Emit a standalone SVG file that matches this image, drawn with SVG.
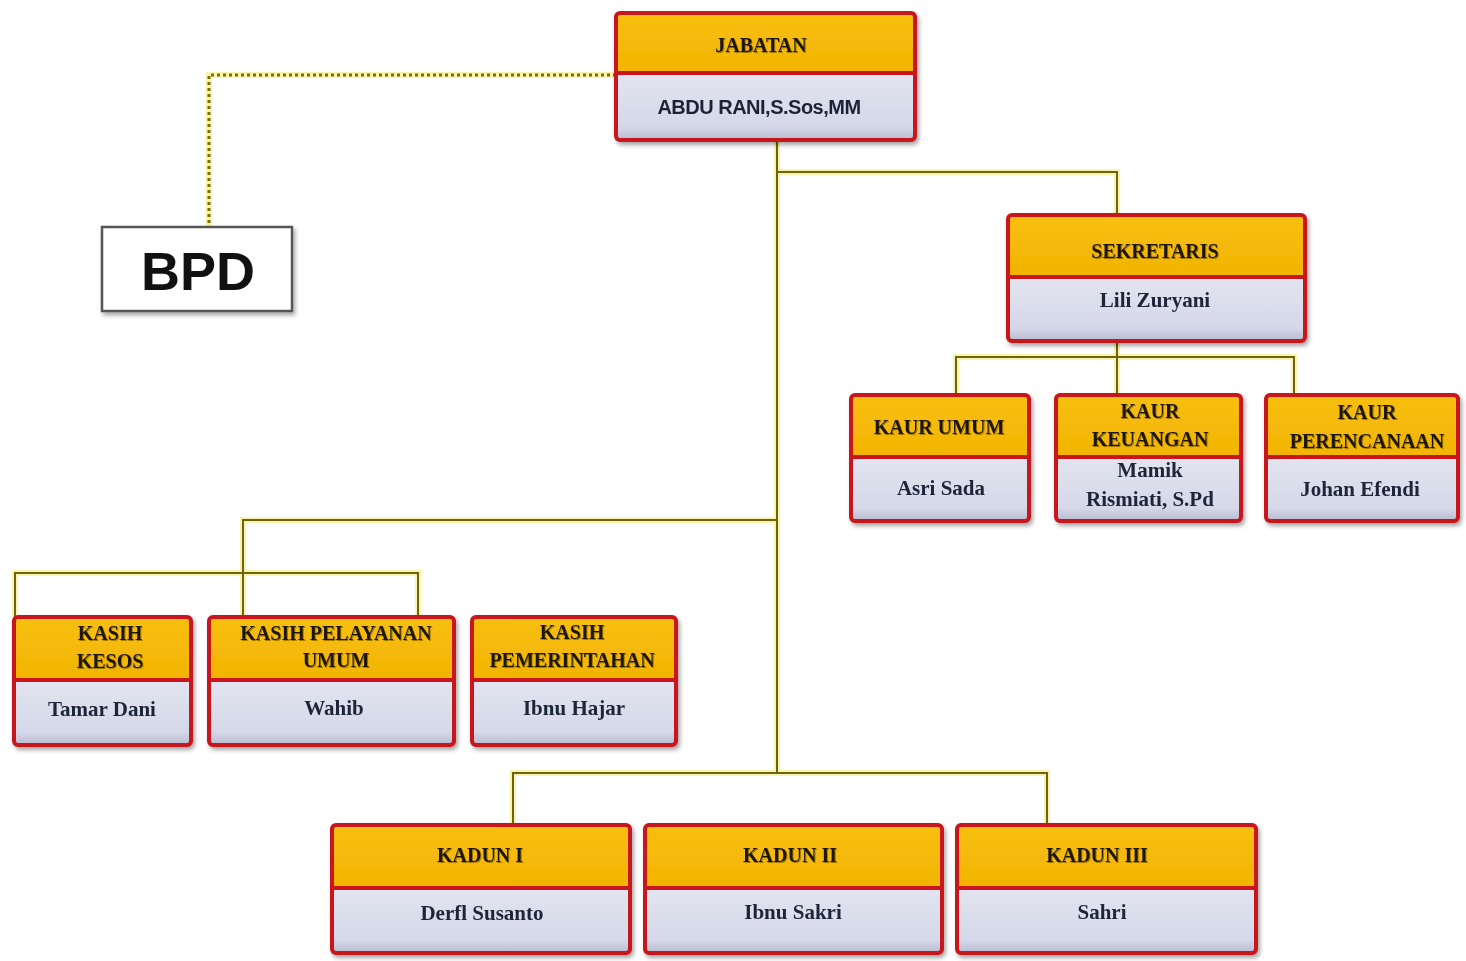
<svg xmlns="http://www.w3.org/2000/svg" width="1466" height="961" viewBox="0 0 1466 961">
<defs>
<linearGradient id="gBot" x1="0" y1="0" x2="0" y2="1">
<stop offset="0" stop-color="#e2e4f0"/>
<stop offset="0.8" stop-color="#d5d8e8"/>
<stop offset="1" stop-color="#b7bbcf"/>
</linearGradient>
<linearGradient id="gTop" x1="0" y1="0" x2="0" y2="1">
<stop offset="0" stop-color="#f8bf12"/>
<stop offset="1" stop-color="#f2b400"/>
</linearGradient>
<filter id="sh" x="-10%" y="-10%" width="125%" height="130%">
<feDropShadow dx="2" dy="3" stdDeviation="2" flood-color="#000" flood-opacity="0.35"/>
</filter>
<filter id="tsh" x="-5%" y="-20%" width="110%" height="150%">
<feDropShadow dx="1" dy="1" stdDeviation="0.6" flood-color="#6b5000" flood-opacity="0.6"/>
</filter>
</defs>
<style>
.top{fill:url(#gTop);}
.bot{fill:url(#gBot);}
.frame{fill:none;stroke:#c8141a;stroke-width:4;}
.div{stroke:#c8141a;stroke-width:4;}
.glow{fill:none;stroke:#f6ee8a;stroke-width:6;stroke-opacity:0.7;}
.ln{fill:none;stroke:#6e6410;stroke-width:2;}
.dot{fill:none;stroke:#7a7000;stroke-width:3;stroke-dasharray:3 3;}
.h{font-family:"Liberation Serif","Times New Roman",serif;font-weight:bold;font-size:20px;fill:#1f1800;text-anchor:middle;filter:url(#tsh);}
.n{font-family:"Liberation Serif","Times New Roman",serif;font-weight:bold;font-size:21px;fill:#1c2538;text-anchor:middle;}
.s{font-family:"Liberation Sans",Arial,sans-serif;font-weight:bold;font-size:20px;fill:#1c2436;text-anchor:middle;letter-spacing:-0.5px;}
.bpd{font-family:"Liberation Sans",Arial,sans-serif;font-weight:bold;font-size:54px;fill:#111;text-anchor:middle;}
</style>
<rect width="1466" height="961" fill="#ffffff"/>

<g id="connectors">
<path class="glow" d="M616 75 H209 V227"/>
<path class="dot" d="M616 75 H209 V227"/>
<path class="glow" d="M777 140 V773 M777 172 H1117 V215 M1117 341 V395 M956 395 V357 H1294 V395 M777 520 H243 V617 M15 617 V573 H418 V617 M513 825 V773 H1047 V825"/>
<path class="ln" d="M777 140 V773 M777 172 H1117 V215 M1117 341 V395 M956 395 V357 H1294 V395 M777 520 H243 V617 M15 617 V573 H418 V617 M513 825 V773 H1047 V825"/>
</g>

<g id="bpd">
<rect x="102" y="227" width="190" height="84" fill="#ffffff" stroke="#555" stroke-width="2.5" filter="url(#sh)"/>
<text class="bpd" x="198" y="290">BPD</text>
</g>

<g id="jabatan" filter="url(#sh)">
<rect class="top" x="616" y="13" width="299" height="60"/>
<rect class="bot" x="616" y="73" width="299" height="67"/>
<line class="div" x1="616" y1="73" x2="915" y2="73"/>
<rect class="frame" x="616" y="13" width="299" height="127" rx="4"/>
<text class="h" x="761" y="52">JABATAN</text>
<text class="s" x="759" y="114">ABDU RANI,S.Sos,MM</text>
</g>

<g id="sekretaris" filter="url(#sh)">
<rect class="top" x="1008" y="215" width="297" height="62"/>
<rect class="bot" x="1008" y="277" width="297" height="64"/>
<line class="div" x1="1008" y1="277" x2="1305" y2="277"/>
<rect class="frame" x="1008" y="215" width="297" height="126" rx="4"/>
<text class="h" x="1155" y="258">SEKRETARIS</text>
<text class="n" x="1155" y="307">Lili Zuryani</text>
</g>

<g id="kaur-umum" filter="url(#sh)">
<rect class="top" x="851" y="395" width="178" height="62"/>
<rect class="bot" x="851" y="457" width="178" height="64"/>
<line class="div" x1="851" y1="457" x2="1029" y2="457"/>
<rect class="frame" x="851" y="395" width="178" height="126" rx="4"/>
<text class="h" x="939" y="434">KAUR UMUM</text>
<text class="n" x="941" y="495">Asri Sada</text>
</g>

<g id="kaur-keuangan" filter="url(#sh)">
<rect class="top" x="1056" y="395" width="185" height="62"/>
<rect class="bot" x="1056" y="457" width="185" height="64"/>
<line class="div" x1="1056" y1="457" x2="1241" y2="457"/>
<rect class="frame" x="1056" y="395" width="185" height="126" rx="4"/>
<text class="h" x="1150" y="418">KAUR</text>
<text class="h" x="1150" y="446">KEUANGAN</text>
<text class="n" x="1150" y="477">Mamik</text>
<text class="n" x="1150" y="506">Rismiati, S.Pd</text>
</g>

<g id="kaur-perencanaan" filter="url(#sh)">
<rect class="top" x="1266" y="395" width="192" height="62"/>
<rect class="bot" x="1266" y="457" width="192" height="64"/>
<line class="div" x1="1266" y1="457" x2="1458" y2="457"/>
<rect class="frame" x="1266" y="395" width="192" height="126" rx="4"/>
<text class="h" x="1367" y="419">KAUR</text>
<text class="h" x="1367" y="448">PERENCANAAN</text>
<text class="n" x="1360" y="496">Johan Efendi</text>
</g>

<g id="kasih-kesos" filter="url(#sh)">
<rect class="top" x="14" y="617" width="177" height="63"/>
<rect class="bot" x="14" y="680" width="177" height="65"/>
<line class="div" x1="14" y1="680" x2="191" y2="680"/>
<rect class="frame" x="14" y="617" width="177" height="128" rx="4"/>
<text class="h" x="110" y="640">KASIH</text>
<text class="h" x="110" y="668">KESOS</text>
<text class="n" x="102" y="716">Tamar Dani</text>
</g>

<g id="kasih-pelayanan" filter="url(#sh)">
<rect class="top" x="209" y="617" width="245" height="63"/>
<rect class="bot" x="209" y="680" width="245" height="65"/>
<line class="div" x1="209" y1="680" x2="454" y2="680"/>
<rect class="frame" x="209" y="617" width="245" height="128" rx="4"/>
<text class="h" x="336" y="640">KASIH PELAYANAN</text>
<text class="h" x="336" y="667">UMUM</text>
<text class="n" x="334" y="715">Wahib</text>
</g>

<g id="kasih-pemerintahan" filter="url(#sh)">
<rect class="top" x="472" y="617" width="204" height="63"/>
<rect class="bot" x="472" y="680" width="204" height="65"/>
<line class="div" x1="472" y1="680" x2="676" y2="680"/>
<rect class="frame" x="472" y="617" width="204" height="128" rx="4"/>
<text class="h" x="572" y="639">KASIH</text>
<text class="h" x="572" y="667">PEMERINTAHAN</text>
<text class="n" x="574" y="715">Ibnu Hajar</text>
</g>

<g id="kadun-1" filter="url(#sh)">
<rect class="top" x="332" y="825" width="298" height="63"/>
<rect class="bot" x="332" y="888" width="298" height="65"/>
<line class="div" x1="332" y1="888" x2="630" y2="888"/>
<rect class="frame" x="332" y="825" width="298" height="128" rx="4"/>
<text class="h" x="480" y="862">KADUN I</text>
<text class="n" x="482" y="920">Derfl Susanto</text>
</g>

<g id="kadun-2" filter="url(#sh)">
<rect class="top" x="645" y="825" width="297" height="63"/>
<rect class="bot" x="645" y="888" width="297" height="65"/>
<line class="div" x1="645" y1="888" x2="942" y2="888"/>
<rect class="frame" x="645" y="825" width="297" height="128" rx="4"/>
<text class="h" x="790" y="862">KADUN II</text>
<text class="n" x="793" y="919">Ibnu Sakri</text>
</g>

<g id="kadun-3" filter="url(#sh)">
<rect class="top" x="957" y="825" width="299" height="63"/>
<rect class="bot" x="957" y="888" width="299" height="65"/>
<line class="div" x1="957" y1="888" x2="1256" y2="888"/>
<rect class="frame" x="957" y="825" width="299" height="128" rx="4"/>
<text class="h" x="1097" y="862">KADUN III</text>
<text class="n" x="1102" y="919">Sahri</text>
</g>
</svg>
